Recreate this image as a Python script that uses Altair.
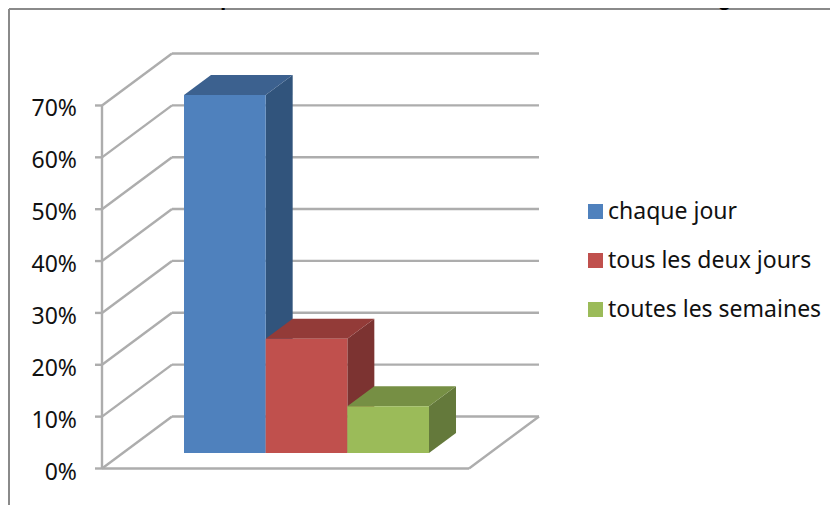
import altair as alt
import pandas as pd

# --- chart values -----------------------------------------------------------
series = ["chaque jour", "tous les deux jours", "toutes les semaines"]
values = [0.69, 0.22, 0.09]
front_colors = ["#4F81BD", "#C0504D", "#9BBB59"]
top_colors = ["#3C618F", "#933B38", "#768F44"]
side_colors = ["#31547C", "#7C3331", "#64793B"]
y_ticks = [0, 0.1, 0.2, 0.3, 0.4, 0.5, 0.6, 0.7]
y_tick_labels = ["0%", "10%", "20%", "30%", "40%", "50%", "60%", "70%"]
title_text = "de 13 : Fréquence de nettoiement des ustensiles de stockage"

# --- perspective drawing settings, in scale units ---------------------------
PX_PER_SLOT = 81.67
PX_PER_UNIT = 518.6
W, H = 822, 497
AXIS_PX, ZERO_PX = 94, 460.5            # axis position inside the plot
x_dom = [-AXIS_PX / PX_PER_SLOT, (W - AXIS_PX) / PX_PER_SLOT]
y_dom = [-(H - ZERO_PX) / PX_PER_UNIT, ZERO_PX / PX_PER_UNIT]
x_scale = alt.Scale(domain=x_dom, nice=False, zero=False)
y_scale = alt.Scale(domain=y_dom, nice=False, zero=False)

WALL_DX, WALL_DY = 70 / PX_PER_SLOT, 52 / PX_PER_UNIT
BAR_DX, BAR_DY = 27 / PX_PER_SLOT, 20 / PX_PER_UNIT
FLOOR_W = 367 / PX_PER_SLOT
BAR_START, BAR_BASE = 82 / PX_PER_SLOT, 0.03
TICK_LEN = 7 / PX_PER_SLOT
LABEL_GAP = 25 / PX_PER_SLOT

# --- tables -----------------------------------------------------------------
fronts, sides, tops = [], [], []
for i, (s, v) in enumerate(zip(series, values)):
    x0, x1 = BAR_START + i, BAR_START + i + 1
    b, t = BAR_BASE, BAR_BASE + v
    fronts.append(dict(s=s, x=x0, x2=x1, y=b, y2=t))
    sides += [dict(s=s, x=x1, y=b, y2=t),
              dict(s=s, x=x1 + BAR_DX, y=b + BAR_DY, y2=t + BAR_DY)]
    tops += [dict(s=s, x=x0, y=t, y2=t),
             dict(s=s, x=x0 + BAR_DX, y=t, y2=t + BAR_DY),
             dict(s=s, x=x1, y=t, y2=t + BAR_DY),
             dict(s=s, x=x1 + BAR_DX, y=t + BAR_DY, y2=t + BAR_DY)]

GRID = "#ADADAD"
X = alt.X("x:Q", scale=x_scale, axis=None)
Y = alt.Y("y:Q", scale=y_scale, axis=None)

grid_rows = []
for t in y_ticks:
    grid_rows.append(dict(x=0, x2=WALL_DX, y=t, y2=t + WALL_DY))
    grid_rows.append(dict(x=WALL_DX, x2=WALL_DX + FLOOR_W, y=t + WALL_DY, y2=t + WALL_DY))
    grid_rows.append(dict(x=-TICK_LEN, x2=0, y=t, y2=t))
grid_rows.append(dict(x=0, x2=FLOOR_W, y=0, y2=0))
grid_rows.append(dict(x=FLOOR_W, x2=FLOOR_W + WALL_DX, y=0, y2=WALL_DY))
grid_rows.append(dict(x=0, x2=0, y=0, y2=max(y_ticks)))

grid = alt.Chart(pd.DataFrame(grid_rows)).mark_rule(color=GRID, strokeWidth=2.4).encode(
    x=X, x2="x2:Q", y=Y, y2="y2:Q"
)

tick_labels = alt.Chart(pd.DataFrame({
    "x": [-LABEL_GAP] * len(y_ticks), "y": y_ticks, "t": y_tick_labels,
})).mark_text(
    font="Noto Sans", fontSize=23, align="right", baseline="middle", dy=4, color="#111111"
).encode(x=X, y=Y, text="t:N")

face_scale = lambda cols: alt.Scale(domain=series, range=cols)
side_layer = alt.Chart(pd.DataFrame(sides)).mark_area(opacity=1).encode(
    x=X, y=Y, y2="y2:Q",
    color=alt.Color("s:N", scale=face_scale(side_colors), legend=None),
    detail="s:N",
)
top_layer = alt.Chart(pd.DataFrame(tops)).mark_area(opacity=1).encode(
    x=X, y=Y, y2="y2:Q",
    color=alt.Color("s:N", scale=face_scale(top_colors), legend=None),
    detail="s:N",
)
front_layer = alt.Chart(pd.DataFrame(fronts)).mark_bar(opacity=1).encode(
    x=X, x2="x2:Q", y=Y, y2="y2:Q",
    color=alt.Color("s:N", scale=face_scale(front_colors), legend=alt.Legend(
        title=None, orient="none", legendX=576, legendY=192, symbolType="square",
        symbolSize=225, symbolStrokeWidth=0, symbolOpacity=1, labelFont="Noto Sans",
        labelFontSize=23, labelColor="#111111", rowPadding=25, labelOffset=1,
        labelLimit=300,
    )),
)

frame_top = alt.Chart(pd.DataFrame({"a": [0]})).mark_rule(color="#8A8A8A", strokeWidth=2).encode(
    x=alt.value(1), x2=alt.value(W), y=alt.value(1)
)
frame_left = alt.Chart(pd.DataFrame({"a": [0]})).mark_rule(color="#8A8A8A", strokeWidth=2).encode(
    x=alt.value(1), y=alt.value(1), y2=alt.value(H)
)
title_mark = alt.Chart(pd.DataFrame({"t": [title_text]})).mark_text(
    font="Liberation Sans", fontWeight="bold", fontSize=22, align="center", baseline="alphabetic", color="#000000"
).encode(text="t:N", x=alt.value(415), y=alt.value(-3))

chart = alt.layer(
    frame_top, frame_left, grid, tick_labels, side_layer, top_layer, front_layer, title_mark
).resolve_scale(color="independent").properties(
    width=W, height=H, padding=0, autosize=alt.AutoSizeParams(type="none"),
    background="white",
).configure_view(stroke=None)

chart.save("out.html", embed_options={"renderer": "svg", "actions": False})
